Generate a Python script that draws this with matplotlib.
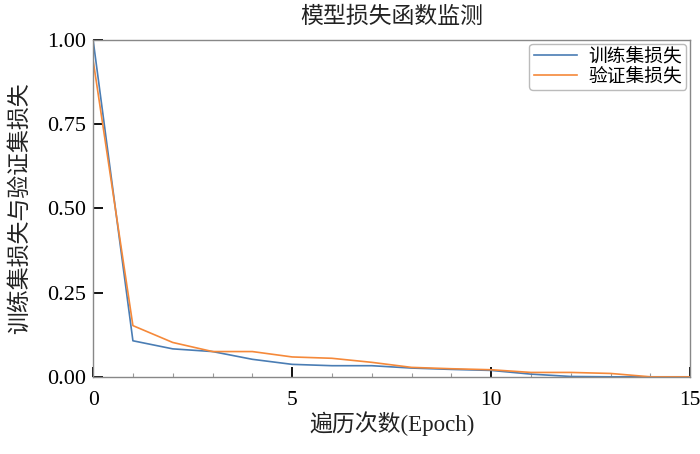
import numpy as np
import matplotlib
matplotlib.use('Agg')
import matplotlib.pyplot as plt
from matplotlib.ticker import MultipleLocator

# Serif for digits/Latin, CJK falls back to Noto Sans CJK
plt.rcParams['font.family'] = ['Liberation Serif', 'Noto Sans CJK SC']
plt.rcParams['axes.unicode_minus'] = False

# Loss values
epochs = list(range(16))
train_loss = [1.00, 0.107, 0.083, 0.075, 0.052, 0.037, 0.033, 0.033,
              0.026, 0.022, 0.019, 0.008, 0.001, 0.0, 0.0, 0.0]
val_loss = [0.94, 0.152, 0.102, 0.075, 0.075, 0.059, 0.055, 0.043,
            0.028, 0.024, 0.021, 0.013, 0.013, 0.010, 0.0, 0.0]
y_ticks = [0.00, 0.25, 0.50, 0.75, 1.00]
x_ticks = [0, 5, 10, 15]

fig = plt.figure(figsize=(7, 4.54), dpi=100)
ax = fig.add_axes([0.133, 0.170, 0.853, 0.742])

ax.plot(epochs, train_loss, color='#4a7db4', lw=1.2, label='训练集损失')
ax.plot(epochs, val_loss, color='#f5893a', lw=1.2, label='验证集损失')

ax.set_xlim(0, 15)
ax.set_ylim(0, 1)
ax.set_xticks(x_ticks)
ax.set_yticks(y_ticks)
ax.set_yticklabels(['%.2f' % v for v in y_ticks])
ax.xaxis.set_minor_locator(MultipleLocator(1))

ax.tick_params(axis='both', which='major', direction='in', length=7, width=1.3,
               colors='black')
ax.tick_params(axis='x', which='major', pad=10, labelsize=15.5)
ax.tick_params(axis='y', which='major', pad=5, labelsize=16)
ax.tick_params(axis='x', which='minor', direction='in', length=3, width=0.8,
               color='#999999')

for s in ax.spines.values():
    s.set_color('#888888')
    s.set_linewidth(1.0)

ax.set_title('模型损失函数监测', fontsize=16.5, pad=12, color='#222222')
ax.set_xlabel('遍历次数(Epoch)', fontsize=16.5, labelpad=1, color='#222222')
ax.set_ylabel('训练集损失与验证集损失', fontsize=16.5, labelpad=12, color='#222222')

leg = ax.legend(loc='upper right', fontsize=13.5, handlelength=2.3,
                borderaxespad=0.2, labelspacing=0.1, handletextpad=0.6,
                borderpad=0.25, framealpha=1)
leg.get_frame().set_edgecolor('#bbbbbb')

plt.savefig('out.png', dpi=100)
